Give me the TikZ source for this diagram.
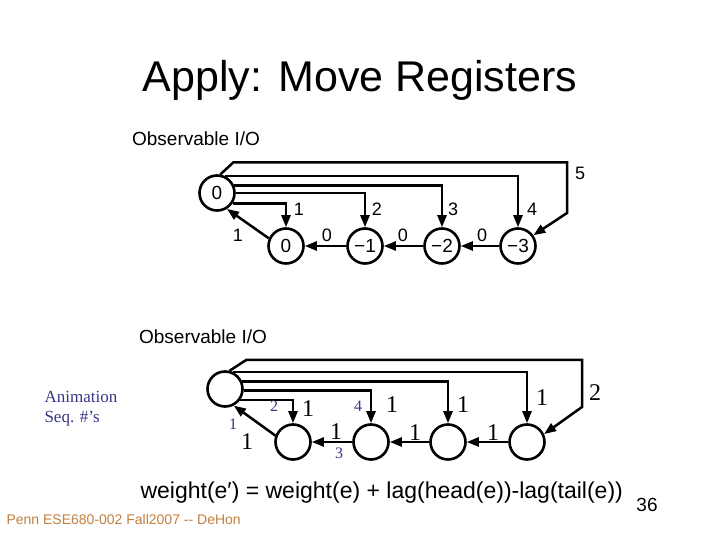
\documentclass[tikz,border=0pt]{standalone}
\usepackage{fontspec}
\setmainfont{Liberation Sans}
\newfontfamily\tmsfont{Liberation Serif}
\usetikzlibrary{arrows.meta, positioning, calc}
\definecolor{seqblue}{RGB}{55,55,135}
\definecolor{footbrown}{RGB}{196,128,64}

\begin{document}
\begin{tikzpicture}[
    x=1pt, y=-1pt,
    % Global styles
    >={Triangle[length=12pt, width=9pt]},
    % Register nodes
    regnode/.style={
      circle, draw, line width=2.6pt, minimum size=35pt, inner sep=0pt,
      font=\fontsize{19}{19}\selectfont
    },
    arr/.style={->, line width=2.5pt},
    % Labels
    titletext/.style={font=\fontsize{43}{43}\selectfont},
    obstext/.style={font=\fontsize{19}{19}\selectfont},
    wlbl/.style={font=\fontsize{18}{18}\selectfont},
    blbl/.style={font=\tmsfont\fontsize{24}{24}\selectfont},
    seqlbl/.style={font=\tmsfont\fontsize{16}{16}\selectfont, text=seqblue},
  ]
  \useasboundingbox[fill=white] (0,0) rectangle (720,540);

  \node[titletext] (title) at (360,80) {Apply: Move Registers};

  % ====================================================================
  % TOP — original retimed graph
  % ====================================================================
  \node[obstext] (tobs) at (196,139) {Observable I/O};

  \node[regnode] (h0) at (217,193) {0};
  \node[regnode] (t1) at (286,246) {0};
  \node[regnode] (t2) at (365,246) {−1};
  \node[regnode] (t3) at (442,246) {−2};
  \node[regnode] (t4) at (518,246) {−3};
  \coordinate (tc5) at (567,213);

  % Arrows
  \draw[arr] (h0.-34) -| (t1.north);
  \draw[arr] (h0.0) -| (t2.north);
  \draw[arr] (h0.24) -| (t3.north);
  \draw[arr] (h0.66) -| (t4.north);
  \draw[arr] (h0.80) -- ++(13,-12) -| (tc5) -- (t4.35);
  \draw[arr] (t4) -- (t3);
  \draw[arr] (t3) -- (t2);
  \draw[arr] (t2) -- (t1);
  \draw[arr] (t1.156) -- (h0.-58);

  % Edge labels
  \node[wlbl] (tl1) at (299,209) {1};
  \node[wlbl] (tl2) at (377,209) {2};
  \node[wlbl] (tl3) at (453,209) {3};
  \node[wlbl] (tl4) at (532,209) {4};
  \node[wlbl] (tl5) at (580,173) {5};
  \node[wlbl] (tz1) at (327,235) {0};
  \node[wlbl] (tz2) at (403,235) {0};
  \node[wlbl] (tz3) at (482,235) {0};
  \node[wlbl] (tb1) at (238,235) {1};

  % ====================================================================
  % BOTTOM — weighted graph
  % ====================================================================
  \node[obstext] (bobs) at (203,337) {Observable I/O};

  \node[regnode] (hb) at (225,389) {};
  \node[regnode] (b1) at (293,442) {};
  \node[regnode] (b2) at (371,442) {};
  \node[regnode] (b3) at (448,442) {};
  \node[regnode] (b4) at (527,442) {};
  \coordinate (bc5) at (582,407);

  % Arrows
  \draw[arr] (hb.-35) -| (b1.north);
  \draw[arr] (hb.-5) -| (b2.north);
  \draw[arr] (hb.24) -| (b3.north);
  \draw[arr] (hb.66) -| (b4.north);
  \draw[arr] (hb.76) -- ++(17,-11) -| (bc5) -- (b4.25);
  \draw[arr] (b4) -- (b3);
  \draw[arr] (b3) -- (b2);
  \draw[arr] (b2) -- (b1);
  \draw[arr] (b1.160) -- (hb.-62);

  % Edge weights
  \node[blbl] (bl1) at (308,409) {1};
  \node[blbl] (bl2) at (392,405) {1};
  \node[blbl] (bl3) at (463,405) {1};
  \node[blbl] (bl4) at (542,398) {1};
  \node[blbl] (bl5) at (595,393) {2};
  \node[blbl] (bw1) at (336,432) {1};
  \node[blbl] (bw2) at (415,433) {1};
  \node[blbl] (bw3) at (493,433) {1};
  \node[blbl] (bw4) at (247,442) {1};

  % Animation sequence numbers
  \node[seqlbl] (sq1) at (233,424) {1};
  \node[seqlbl] (sq2) at (274,406) {2};
  \node[seqlbl] (sq3) at (339,453) {3};
  \node[seqlbl] (sq4) at (358,406) {4};
  \node[seqlbl, align=left, anchor=west, font=\tmsfont\fontsize{17}{20}\selectfont]
    (seq) at (41,409) {Animation\\Seq. \#’s};

  % Formula and footer
  \node[font=\fontsize{23}{23}\selectfont, anchor=west] (wt) at (137,493)
    {weight(e′) = weight(e) + lag(head(e))-lag(tail(e))};
  \node[font=\fontsize{19}{19}\selectfont] (pg) at (647,505) {36};
  \node[font=\fontsize{14}{14}\selectfont, text=footbrown, anchor=west] (foot) at (3,519)
    {Penn ESE680-002 Fall2007 -{}- DeHon};

\end{tikzpicture}
\end{document}
